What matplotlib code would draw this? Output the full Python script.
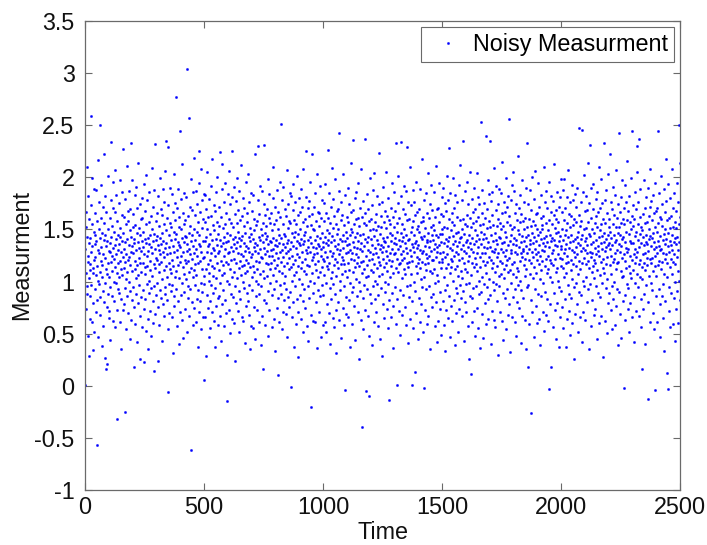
import numpy as np
import matplotlib
matplotlib.use("Agg")
import matplotlib.pyplot as plt

# Noisy measurements (hundredths), read in blocks of 500 time steps
meas_0001_0500 = [
    1, 131, 108, 152, 167, 74, 96, 210, 143, 88, 119, 125, 48, 182, 137, 103, 29, 160, 111, 64,
    117, 142, 86, 97, 259, 173, 128, 61, 134, 155, 199, 113, 79, 34, 108, 121, 189, 148, 52, 136,
    93, 166, 145, 124, 71, 106, 188, 139, 115, -57, 82, 158, 130, 101, 217, 47, 127, 176, 150, 98,
    142, 109, 250, 68, 85, 133, 161, 120, 193, 38, 104, 147, 116, 172, 91, 126, 57, 140, 222, 80,
    156, 123, 99, 27, 145, 182, 134, 16, 112, 167, 76, 21, 139, 107, 150, 201, 118, 88, 129, 65,
    104, 72, 137, 161, 128, 95, 44, 178, 119, 234, 143, 110, 86, 153, 125, 196, 62, 132, 171, 100,
    122, 148, 81, 207, 114, 135, 167, 56, 99, 126, 183, 141, 73, 108, -32, 158, 130, 93, 145, 118,
    89, 136, 175, 104, 61, 151, 120, 143, 197, 112, 83, 128, 35, 164, 139, 106, 186, 73, 124, 227,
    147, 113, 78, 131, 162, 94, 119, -25, 179, 138, 54, 102, 155, 126, 211, 86, 141, 109, 168, 121,
    70, 158, 135, 100, 124, 187, 45, 116, 149, 91, 170, 128, 63, 143, 233, 110, 134, 82, 197, 152,
    127, 95, 165, 141, 76, 18, 137, 183, 112, 120, 154, 59, 103, 191, 130, 88, 147, 171, 42, 116,
    138, 106, 79, 214, 123, 151, 97, 132, 67, 174, 118, 145, 26, 160, 129, 85, 109, 180, 139, 56,
    161, 133, 92, 118, 148, 74, 194, 23, 126, 107, 168, 141, 83, 114, 53, 155, 137, 202, 98, 125,
    115, 178, 64, 142, 35, 129, 101, 157, 89, 136, 186, 120, 72, 145, 111, 163, 48, 133, 94, 209,
    105, 150, 127, 81, 172, 139, 60, 117, 146, 14, 96, 188, 131, 113, 232, 69, 140, 158, 123, 87,
    144, 99, 166, 121, 76, 135, 24, 182, 109, 153, 130, 58, 117, 199, 92, 142, 126, 170, 84, 136,
    119, 164, 43, 147, 102, 128, 189, 78, 139, 111, 155, 67, 176, 124, 95, 206, 132, 88, 149, 115,
    235, 137, 82, 161, 104, 126, 173, 54, -6, 229, 118, 145, 98, 133, 70, 156, 112, 190, 127, 91,
    152, 108, 140, 66, 184, 121, 97, 167, 31, 134, 115, 148, 203, 86, 128, 77, 159, 104, 141, 175,
    110, 146, 277, 93, 130, 57, 171, 124, 138, 189, 81, 116, 152, 103, 40, 162, 135, 71, 119, 244,
    133, 87, 179, 125, 150, 213, 99, 63, 142, 114, 166, 128, 46, 155, 107, 138, 90, 185, 121, 144,
    159, 74, 118, 143, 102, 181, 129, 52, 304, 136, 96, 163, 120, 84, 147, 109, 257, 131, 67, 172,
    126, 153, 93, 198, 139, -62, 113, 169, 80, 145, 122, 58, 134, 186, 104, 150, 75, 127, 219, 111,
    97, 140, 164, 117, 61, 131, 187, 106, 148, 83, 125, 174, 37, 157, 118, 92, 136, 195, 71, 225,
    145, 120, 81, 167, 134, 99, 208, 128, 54, 151, 112, 178, 90, 139, 123, 66, 160, 105, 184, 6,
]

meas_0501_1000 = [
    124, 98, 157, 183, 66, 139, 112, 143, 29, 170, 128, 87, 150, 205, 117, 75, 134, 162, 101, 47,
    136, 179, 108, 121, 81, 146, 55, 192, 127, 97, 163, 140, 71, 115, 218, 132, 89, 154, 105, 173,
    62, 130, 149, 113, 168, 94, 37, 125, 186, 141, 103, 77, 157, 118, 135, 200, 84, 146, 127, 58,
    153, 111, 86, 172, 129, 67, 140, 224, 99, 120, 43, 162, 134, 106, 189, 78, 213, 137, 116, 151,
    92, 176, 125, 143, 57, 108, 131, 195, 82, 155, 119, 138, 70, 166, 101, 30, 147, -15, 127, 184,
    117, 139, 73, 160, 98, 128, 206, 145, 51, 112, 174, 88, 133, 121, 156, 64, 104, 181, 225, 141,
    129, 85, 152, 109, 191, 136, 60, 122, 165, 96, 143, 24, 118, 177, 132, 79, 156, 103, 138, 199,
    72, 148, 127, 169, 113, 91, 142, 52, 187, 120, 134, 159, 83, 106, 212, 126, 140, 66, 163, 115,
    144, 100, 180, 125, 62, 137, 116, 153, 94, 171, 41, 129, 108, 147, 196, 77, 134, 121, 89, 166,
    110, 157, 132, 81, 203, 118, 143, 68, 128, 176, 97, 151, 35, 139, 114, 185, 124, 57, 146, 104,
    168, 126, 92, 141, 115, 55, 183, 133, 149, 76, 109, 160, 129, 45, 137, 222, 101, 154, 120, 86,
    135, 73, 158, 112, 178, 127, 98, 230, 143, 61, 119, 165, 88, 140, 107, 192, 131, 39, 150, 124,
    96, 145, 187, 123, 67, 138, 110, 156, 16, 132, 174, 103, 231, 82, 147, 126, 58, 164, 118, 141,
    153, 79, 129, 170, 105, 144, 198, 117, 91, 136, 48, 161, 125, 73, 184, 112, 139, 156, 99, 130,
    118, 166, 138, 56, 149, 125, 87, 180, 131, 106, 210, 142, 64, 121, 155, 93, 33, 135, 172, 113,
    140, 101, 159, 127, 75, 188, 116, 134, 150, 84, 123, 10, 167, 145, 110, 61, 137, 196, 97, 128,
    162, 251, 119, 88, 142, 178, 130, 54, 108, 155, 136, 71, 124, 191, 99, 146, 115, 82, 170, 133,
    105, 144, 69, 127, 163, 93, 137, 207, 118, 47, 151, 129, 174, 85, 140, 112, 158, 76, 123, 185,
    131, 90, 156, 114, 138, 182, -1, 125, 147, 101, 66, 169, 134, 117, 194, 80, 143, 106, 159, 37,
    148, 121, 96, 176, 59, 132, 155, 109, 201, 139, 83, 126, 164, 71, 115, 146, 28, 137, 180, 102,
    124, 167, 135, 87, 150, 113, 189, 64, 141, 128, 98, 172, 119, 52, 157, 136, 81, 208, 110, 145,
    93, 139, 160, 122, 75, 148, 107, 181, 130, 225, 116, 57, 153, 127, 96, 171, 140, 43, 133, 163,
    115, 177, 84, 143, 128, 196, 101, 154, 68, 137, -20, 121, 165, 108, 222, 133, 89, 150, 124, 62,
    172, 126, 149, 99, 185, 117, 61, 140, 132, 158, 80, 111, 203, 127, 144, 36, 167, 104, 136, 92,
    120, 153, 71, 134, 166, 109, 142, 192, 86, 125, 47, 161, 131, 114, 178, 97, 147, 122, 58, 138,
]

meas_1001_1500 = [
    133, 87, 158, 120, 175, 106, 61, 143, 128, 194, 99, 137, 52, 166, 115, 149, 78, 124, 226, 140,
    112, 161, 135, 70, 147, 185, 118, 94, 129, 40, 156, 103, 172, 138, 83, 125, 209, 109, 144, 65,
    151, 98, 127, 179, 56, 140, 116, 163, 88, 134, 198, 122, 73, 155, 105, 31, 131, 168, 119, 146,
    80, 136, 170, 113, 150, 126, 63, 187, 243, 101, 141, 92, 130, 159, 117, 46, 176, 124, 139, 107,
    164, 121, 75, 145, 203, 132, 96, 58, 154, 117, -4, 139, 110, 183, 127, 85, 148, 69, 162, 135,
    104, 142, 190, 128, 66, 118, 157, 136, 82, 174, 111, 145, 37, 130, 99, 167, 122, 214, 150, 90,
    127, 59, 148, 169, 109, 138, 95, 236, 121, 155, 77, 133, 180, 114, 44, 143, 102, 160, 126, 186,
    147, 118, 86, 132, 161, 71, 124, 195, 139, 100, 153, 26, 115, 171, 131, 91, 145, 63, 208, 119,
    137, -40, 162, 108, 129, 84, 177, 146, 120, 54, 156, 97, 134, 112, 237, 141, 73, 166, 104, -5,
    125, 154, 93, 184, 138, 116, 67, 143, 170, 105, 130, 48, 158, 121, -10, 88, 149, 199, 128, 111,
    79, 141, 160, 122, 39, 135, 173, 109, 150, 96, 126, 188, 61, 144, 117, 204, 132, 83, 157, 101,
    149, 127, 71, 165, 113, 140, 98, 182, 124, 57, 153, 136, 87, 119, 174, 105, 223, 131, 45, 146,
    116, 163, 135, 94, 152, 29, 128, 176, 107, 142, 78, 122, 191, 133, 65, 157, 114, 139, 100, 168,
    138, 90, 118, 205, 129, 151, 74, 110, 163, 125, 143, 55, 98, 180, 134, 121, 159, 82, -14, 147,
    104, 155, 127, 66, 171, 139, 115, 195, 89, 131, 145, 120, 36, 162, 108, 77, 137, 186, 126, 152,
    127, 142, 95, 168, 233, 113, 59, 136, 156, 122, 83, 148, 1, 175, 131, 109, 201, 72, 140, 117,
    161, 92, 134, 118, 49, 234, 147, 126, 182, 103, 139, 68, 155, 121, 170, 87, 129, 143, 112, 192,
    123, 150, 76, 137, 165, 107, 187, 132, 58, 145, 229, 118, 96, 159, 127, 41, 140, 176, 114, 85,
    141, 119, 160, 97, 130, 210, 64, 148, 125, 173, 107, 1, 136, 152, 81, 120, 188, 133, 55, 158,
    100, 176, 128, 145, 13, 137, 91, 164, 115, 196, 139, 70, 124, 150, 108, 167, 132, 45, 153, 118,
    135, 84, 170, 122, 148, 61, 113, 189, 130, 102, 157, 143, 78, 127, 218, 95, 141, 119, 162, 52,
    158, 129, 104, -2, 144, 178, 117, 134, 73, 151, 126, 93, 185, 111, 140, 59, 166, 123, 138, 204,
    118, 67, 147, 133, 161, 96, 125, 35, 174, 139, 110, 152, 85, 129, 193, 121, 145, 76, 108, 169,
    140, 154, 88, 121, 186, 131, 112, 149, 57, 162, 99, 136, 211, 124, 80, 145, 170, 106, 133, 42,
    128, 171, 143, 101, 62, 157, 119, 135, 195, 90, 146, 127, 74, 165, 113, 138, 49, 181, 122, 150,
]

meas_1501_2000 = [
    119, 146, 81, 163, 128, 190, 104, 58, 137, 152, 92, 175, 124, 33, 141, 113, 168, 73, 134, 201,
    151, 97, 126, 178, 65, 139, 117, 228, 143, 86, 160, 108, 47, 132, 185, 122, 149, 77, 114, 166,
    130, 62, 157, 120, 144, 199, 101, 136, 82, 171, 125, 154, 39, 112, 139, 183, 94, 128, 147, 70,
    162, 115, 89, 134, 176, 52, 148, 126, 105, 193, 138, 74, 121, 159, 97, 142, 212, 110, 131, 84,
    143, 178, 123, 67, 150, 103, 235, 135, 91, 160, 118, 43, 146, 129, 187, 80, 155, 112, 138, 98,
    127, 71, 164, 140, 109, 153, 196, 120, 57, 133, 174, 99, 145, 26, 125, 161, 86, 137, 205, 11,
    106, 152, 131, 179, 84, 142, 118, 61, 167, 128, 94, 156, 136, 72, 190, 114, 48, 149, 123, 170,
    139, 96, 158, 117, 204, 127, 75, 145, 110, 181, 133, 55, 162, 101, 141, 88, 174, 124, 36, 154,
    114, 253, 136, 90, 148, 166, 104, 127, 188, 69, 141, 120, 155, 46, 133, 175, 98, 146, 116, 79,
    161, 127, 240, 108, 142, 59, 170, 132, 95, 151, 119, 197, 83, 138, 64, 158, 124, 184, 102, 235,
    133, 87, 152, 177, 121, 40, 145, 113, 164, 129, 72, 186, 100, 139, 154, 118, 209, 92, 128, 63,
    147, 109, 131, 56, 169, 140, 98, 192, 124, 153, 81, 136, 115, 174, 30, 127, 160, 105, 143, 189,
    96, 156, 120, 142, 71, 185, 131, 107, 150, 215, 118, 62, 137, 166, 89, 128, 44, 153, 112, 176,
    138, 103, 167, 125, 148, 84, 199, 116, 54, 143, 130, 172, 93, 121, 157, 68, 135, 109, 182, 256,
    123, 163, 78, 139, 111, 154, 32, 130, 178, 99, 145, 127, 66, 193, 117, 150, 85, 136, 205, 107,
    152, 119, 142, 187, 93, 128, 61, 166, 135, 104, 174, 48, 140, 113, 159, 126, 80, 149, 220, 97,
    110, 171, 133, 75, 146, 120, 183, 101, 157, 127, 41, 138, 165, 92, 124, 197, 144, 67, 131, 158,
    129, 84, 150, 116, 176, 139, 63, 122, 161, 105, 143, 190, 35, 134, 112, 233, 152, 95, 127, 18,
    145, 174, 97, 131, 59, 160, 121, 140, 188, 107, 136, 82, -26, 153, 118, 169, 128, 71, 147, 200,
    103, 137, 158, 124, 47, 143, 179, 114, 93, 154, 131, 206, 77, 126, 165, 139, 108, 60, 150, 121,
    166, 128, 88, 145, 195, 117, 135, 64, 172, 102, 148, 125, 39, 161, 111, 183, 141, 86, 130, 154,
    120, 150, 137, 71, 163, 99, 210, 129, 142, 53, 176, 115, 134, 90, 156, 122, 187, 68, 144, 108,
    138, 83, 171, 125, 149, 112, 62, 159, -3, 133, 196, 104, 145, 121, 78, 167, 18, 139, 118, 182,
    127, 155, 100, 142, 177, 56, 130, 116, 164, 89, 140, 213, 122, 73, 151, 135, 45, 169, 109, 147,
    160, 113, 134, 186, 79, 148, 126, 101, 157, 37, 139, 172, 95, 123, 144, 66, 181, 131, 115, 198,
]

meas_2001_2500 = [
    134, 91, 167, 122, 150, 76, 188, 113, 140, 55, 159, 127, 104, 198, 145, 83, 131, 171, 37, 118,
    149, 108, 136, 181, 64, 125, 156, 97, 143, 207, 119, 72, 165, 132, 88, 152, 49, 138, 176, 111,
    121, 163, 84, 145, 130, 193, 102, 60, 154, 117, 139, 178, 26, 128, 95, 160, 141, 69, 184, 124,
    157, 99, 133, 172, 115, 143, 78, 126, 190, 52, 148, 107, 137, 164, 247, 90, 120, 153, 66, 135,
    112, 176, 141, 87, 129, 158, 42, 245, 118, 145, 101, 186, 132, 71, 150, 123, 202, 96, 139, 168,
    130, 63, 151, 117, 182, 104, 142, 127, 80, 169, 135, 214, 93, 120, 157, 35, 146, 113, 175, 128,
    231, 144, 98, 161, 124, 57, 136, 190, 109, 150, 82, 127, 170, 138, 115, 194, 68, 147, 103, 121,
    156, 132, 74, 118, 179, 140, 96, 163, 126, 45, 152, 111, 186, 134, 89, 129, 167, 210, 60, 143,
    125, 171, 106, 149, 85, 137, 198, 119, 155, 67, 131, 144, 99, 175, 28, 122, 160, 113, 138, 233,
    108, 147, 178, 129, 62, 156, 117, 141, 94, 188, 133, 51, 124, 166, 102, 145, 79, 135, 203, 152,
    137, 89, 160, 116, 222, 131, 148, 73, 176, 107, 142, 125, 54, 170, 135, 96, 155, 191, 119, 83,
    164, 122, 145, 100, 58, 138, 183, 127, 112, 152, 77, 140, 207, 118, 93, 161, 130, 39, 147, 174,
    119, 152, 243, 136, 90, 167, 128, 69, 145, 110, 181, 134, 156, 46, 123, 197, 104, 141, 81, 160,
    143, 105, 171, -2, 126, 155, 138, 87, 193, 120, 63, 148, 132, 113, 176, 98, 159, 128, 216, 74,
    131, 168, 94, 146, 115, 52, 182, 139, 108, 157, 125, 79, 137, 199, 103, 150, 66, 244, 121, 163,
    153, 111, 137, 173, 85, 126, 160, 42, 144, 118, 186, 99, 131, 148, 72, 170, 124, 205, 230, 107,
    128, 176, 95, 140, 155, 117, 237, 133, 67, 162, 104, 146, 189, 121, 83, 137, 152, 56, 114, 16,
    149, 102, 165, 126, 74, 143, 197, 118, 135, 88, 171, 127, 40, 156, 111, 138, 181, 97, 145, 123,
    116, 157, 136, 190, -13, 129, 80, 163, 141, 105, 150, 208, 122, 61, 144, 172, 99, 134, 118, 177,
    142, 92, 123, 159, 183, 110, 147, 70, 131, 166, 54, 138, 115, 195, -4, 152, 125, 86, 168, 133,
    105, 148, 171, 127, 61, 139, 244, 116, 156, 93, 134, 185, 120, 47, 162, 144, 78, 130, 201, 112,
    160, 131, 86, 153, 119, 174, 98, 140, 65, 127, 189, 107, 146, 33, 136, 167, 122, 81, 150, 218,
    126, 177, 141, 104, 12, 159, 118, 134, -3, 194, 147, 72, 128, 161, 95, 139, 180, 114, 56, 151,
    135, 89, 163, 122, 145, 208, 107, 130, 171, 59, 152, 119, 138, 84, 185, 126, 43, 157, 100, 142,
    117, 168, 136, 74, 151, 124, 195, 91, 143, 110, 60, 176, 130, 155, 101, 250, 138, 82, 162, 214,
]

block_starts = [1, 501, 1001, 1501, 2001]
blocks = [meas_0001_0500, meas_0501_1000, meas_1001_1500, meas_1501_2000, meas_2001_2500]

x_ticks = [0, 500, 1000, 1500, 2000, 2500]
x_tick_labels = ["0", "500", "1000", "1500", "2000", "2500"]
y_ticks = [-1, -0.5, 0, 0.5, 1, 1.5, 2, 2.5, 3, 3.5]
y_tick_labels = ["-1", "-0.5", "0", "0.5", "1", "1.5", "2", "2.5", "3", "3.5"]

plt.rcParams['font.family'] = ['Liberation Sans', 'DejaVu Sans']
plt.rcParams['axes.unicode_minus'] = False

t_parts, y_parts = [], []
for start, blk in zip(block_starts, blocks):
    n = len(blk)
    t_parts.append(start + np.arange(n) * (500.0 / n))
    y_parts.append(np.asarray(blk, dtype=float) / 100.0)
t = np.concatenate(t_parts)
y = np.concatenate(y_parts)

FS = 16.8
fig = plt.figure(figsize=(7.07, 5.45), dpi=100)
ax = fig.add_axes([85 / 707, 55 / 545, 595 / 707, 469 / 545])

ax.plot(t, y, linestyle='none', marker='.', color='#0000ff',
        markersize=3.2, markeredgewidth=0.3, label='Noisy Measurment')

ax.set_xlim(0, 2500)
ax.set_ylim(-1, 3.5)
ax.set_xticks(x_ticks)
ax.set_xticklabels(x_tick_labels)
ax.set_yticks(y_ticks)
ax.set_yticklabels(y_tick_labels)

axis_gray = '#6a6a6a'
for s in ax.spines.values():
    s.set_color(axis_gray)
    s.set_linewidth(0.9)
ax.tick_params(direction='in', length=5, width=0.8, color=axis_gray,
               top=True, right=True, labelsize=FS, labelcolor='#111111')
ax.tick_params(axis='x', pad=4)
ax.tick_params(axis='y', pad=7.5)

ax.set_xlabel('Time', fontsize=FS, labelpad=1.5, color='#111111')
ax.set_ylabel('Measurment', fontsize=FS, labelpad=1, color='#111111')

leg = ax.legend(loc='upper right', fontsize=FS, frameon=True, fancybox=False,
                framealpha=1, edgecolor=axis_gray, borderpad=0.26,
                borderaxespad=0.26, handlelength=1.8, handletextpad=0.17,
                numpoints=1)
leg.get_frame().set_linewidth(0.8)

fig.savefig('out.png', dpi=100)
